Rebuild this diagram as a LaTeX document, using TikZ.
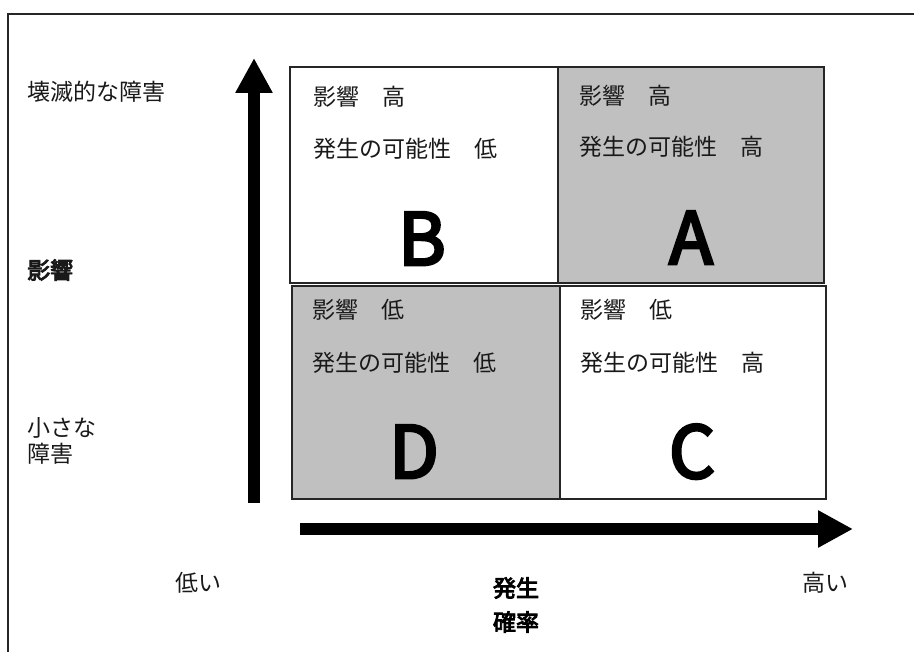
\documentclass[tikz,border=0pt]{standalone}
\usepackage{fontspec}
\usetikzlibrary{arrows.meta}
\newfontfamily\jpfont{Noto Sans CJK JP}
\newfontfamily\jpbold[FakeBold=4]{Noto Sans CJK JP}
\newfontfamily\letterfont[FakeBold=4]{Noto Sans CJK JP}
\definecolor{cellgray}{HTML}{C0C0C0}
\begin{document}
\begin{tikzpicture}[x=1pt,y=-1pt,
  cell/.style={draw=black!85,line width=1.5pt,rectangle,inner sep=0pt,anchor=center},
  jtext/.style={font=\jpfont\fontsize{23}{26}\selectfont,inner sep=0pt,anchor=west,text=black!90},
  jbold/.style={font=\jpbold\fontsize{23}{34}\selectfont,inner sep=0pt,align=center},
  bigletter/.style={font=\letterfont\fontsize{72}{72}\selectfont,inner sep=0pt,anchor=base},
  axis/.style={line width=12pt,-{Triangle[length=35pt,width=35pt]}}]
\useasboundingbox (0,0) rectangle (914,652);
% outer frame (only top and left visible)
\draw[line width=1.6pt,black!85] (8,660) -- (8,14) -- (920,14);
% cells
\node[cell,fill=white,minimum width=268pt,minimum height=216pt] (B) at (424,175) {};
\node[cell,fill=cellgray,minimum width=266pt,minimum height=216pt] (A) at (691,175) {};
\node[cell,fill=cellgray,minimum width=268pt,minimum height=213pt] (D) at (426,392.5) {};
\node[cell,fill=white,minimum width=266pt,minimum height=213pt] (C) at (693,392.5) {};
% cell texts
\node[jtext] (b1) at (313,97) {影響　高};
\node[jtext] (b2) at (313,149) {発生の可能性　低};
\node[jtext] (a1) at (579,96) {影響　高};
\node[jtext] (a2) at (579,147) {発生の可能性　高};
\node[jtext] (d1) at (312,310) {影響　低};
\node[jtext] (d2) at (312,363) {発生の可能性　低};
\node[jtext] (c1) at (580,310) {影響　低};
\node[jtext] (c2) at (580,363) {発生の可能性　高};
% big letters
\node[bigletter] (lb) at (422,265) {B};
\node[bigletter] (la) at (691,264) {A};
\node[bigletter] (ld) at (414,478) {D};
\node[bigletter] (lc) at (692,478) {C};
% axes
\coordinate (vbot) at (254,503);
\coordinate (vtop) at (254,58);
\coordinate (hleft) at (300,529);
\coordinate (hright) at (853,529);
\draw[axis] (vbot) -- (vtop);
\draw[axis] (hleft) -- (hright);
% left labels
\node[jtext] (high) at (27,92) {壊滅的な障害};
\node[jtext,font=\jpbold\fontsize{23}{26}\selectfont] (eikyo) at (27,270) {影響};
\node[jtext,align=left] (low) at (27,441) {小さな\\障害};
% bottom labels
\node[jtext] (lo) at (175,583) {低い};
\node[jtext] (hi) at (802,583) {高い};
\node[jbold] (prob) at (516,605) {発生\\確率};
\end{tikzpicture}
\end{document}
